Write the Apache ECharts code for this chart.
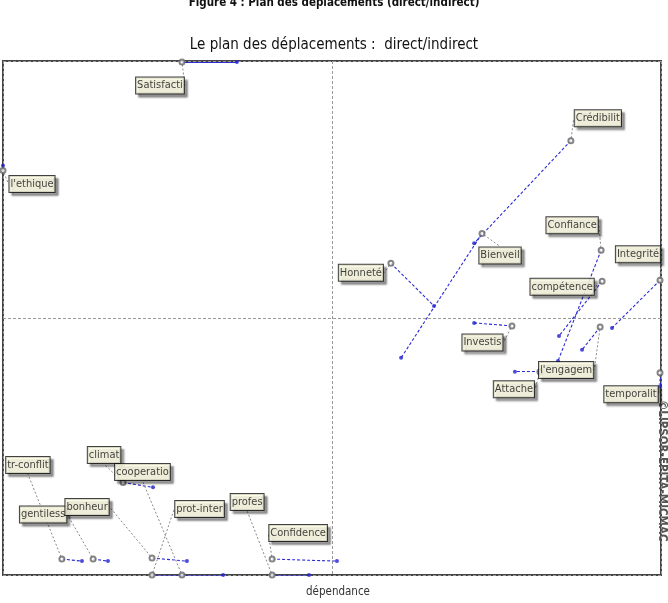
<!DOCTYPE html>
<html>
<head>
<meta charset="utf-8">
<script src="https://cdn.jsdelivr.net/npm/echarts@6/dist/echarts.min.js"></script>
<style>
  html, body { margin: 0; padding: 0; background: #fff; }
  #main { width: 668px; height: 603px; }
</style>
</head>
<body>
<div id="main"></div>
<script>
// variables (labels truncated as in the MICMAC output)
var names = ['Satisfacti', "l'ethique", 'Crédibilit', 'Bienveil', 'Honneté', 'Confiance',
  'compétence', 'Integrité', "l'engagem", 'Investis', 'Attache', 'temporalit',
  'tr-conflit', 'gentiless', 'bonheur', 'climat', 'prot-inter', 'cooperatio',
  'profes', 'Confidence'];

// direct position (open circle)
var directX = [-45.6, -100, 72.6, 45.6, 17.9, 81.8, 82.1, 99.7, 81.5, 54.7, 63.2, 99.7,
  -82.1, -72.6, -54.7, -63.5, -54.7, -45.6, -18.2, -18.2];
var directY = [99.6, 57.4, 69.0, 32.9, 21.3, 26.4, 14.3, 14.7, -3.5, -3.1, -20.9, -21.3,
  -93.8, -93.8, -93.4, -64.0, -100, -100, -100, -93.8];

// indirect position (blue dot)
var indirectX = [-28.9, -100, 43.2, 21.0, 31.0, 68.7, 69.0, 85.1, 76.0, 43.2, 55.6, 99.7,
  -76.0, -68.1, -44.1, -54.4, -45.6, -33.1, -7.0, 1.5];
var indirectY = [99.6, 59.3, 29.1, -15.5, 4.7, -16.7, -7.0, -3.9, -12.4, -1.9, -20.9, -26.7,
  -94.6, -94.6, -94.6, -65.9, -100, -100, -100, -94.6];

// label box offsets from the circle, in pixels (layout only)
var labelDx = [-22, 29, 27, 18, -30, -29, -40, -22, -34, -29.5, -26, -29,
  -34, -50, -65, -19, 47.5, -39.5, -25, 26];
var labelDy = [23.5, 13.5, -22.5, 22, 9.5, -25, 5.5, -26, 43, 16.5, 17.5, 21.5,
  -94, -44.5, -51, -27.5, -66, -103, -73, -26];

var FONT = '"DejaVu Sans Condensed", "Liberation Sans", sans-serif';

var chart = echarts.init(document.getElementById('main'));

// moves lying on the frame are drawn solid, the others dashed
var moves = names.map(function (n, i) {
  var onEdge = Math.abs(directY[i]) > 99 && directY[i] === indirectY[i];
  return {
    coords: [[directX[i], directY[i]], [indirectX[i], indirectY[i]]],
    lineStyle: { type: onEdge ? 'solid' : [3, 2] }
  };
});

var option = {
  animation: false,
  title: [{
    text: 'Figure 4 : Plan des déplacements (direct/indirect)',
    left: 'center',
    top: -8,
    textStyle: { fontFamily: FONT, fontSize: 11.5, fontWeight: 'bold', color: '#111' }
  }, {
    text: 'Le plan des déplacements :  direct/indirect',
    left: 'center',
    top: 33,
    textStyle: { fontFamily: FONT, fontSize: 15, fontWeight: 'normal', color: '#111' }
  }],
  grid: {
    left: 3, right: 7, top: 61, bottom: 26,
    show: true, borderColor: '#444', borderWidth: 2
  },
  xAxis: {
    type: 'value', min: -100, max: 100, interval: 100,
    name: 'dépendance', nameLocation: 'middle', nameGap: 11,
    nameTextStyle: { fontFamily: FONT, fontSize: 11.5, color: '#333', padding: [0, 0, 0, 12] },
    axisLine: { show: false }, axisTick: { show: false }, axisLabel: { show: false },
    splitLine: { show: true, lineStyle: { color: '#999', type: [3, 2] } }
  },
  yAxis: {
    type: 'value', min: -100, max: 100, interval: 100,
    axisLine: { show: false }, axisTick: { show: false }, axisLabel: { show: false },
    splitLine: { show: true, lineStyle: { color: '#999', type: [3, 2] } }
  },
  graphic: [{
    type: 'text',
    x: 668, y: 400,
    rotation: -Math.PI / 2,
    style: {
      text: '©LIPSOR-EPITA-MICMAC',
      font: 'bold 11.5px "DejaVu Sans Condensed"',
      fill: '#555'
    }
  }],
  series: [{
    type: 'lines',
    coordinateSystem: 'cartesian2d',
    data: moves,
    lineStyle: { color: '#2b2bd6', width: 1.1, opacity: 1 },
    silent: true,
    z: 2
  }, {
    type: 'scatter',
    name: 'indirect',
    data: names.map(function (n, i) { return [indirectX[i], indirectY[i]]; }),
    symbolSize: 4,
    itemStyle: { color: '#1f1fd0' },
    clip: false,
    z: 3
  }, {
    type: 'scatter',
    name: 'direct',
    data: names.map(function (n, i) { return { name: n, value: [directX[i], directY[i]] }; }),
    symbol: 'emptyCircle',
    symbolSize: 5,
    itemStyle: { color: '#666', borderWidth: 1.2 },
    clip: false,
    z: 4,
    label: {
      show: true,
      position: 'inside',
      formatter: '{b}',
      fontFamily: FONT,
      fontSize: 11,
      color: '#111',
      backgroundColor: '#ffffe6',
      borderColor: '#111',
      borderWidth: 1,
      padding: [3, 1, 2, 1],
      shadowColor: 'rgba(0,0,0,0.45)',
      shadowOffsetX: 3,
      shadowOffsetY: 3,
      shadowBlur: 2
    },
    labelLine: {
      show: true,
      lineStyle: { color: '#888', width: 1, type: [2, 2] }
    },
    labelLayout: function (params) {
      var i = params.dataIndex;
      return { dx: labelDx[i], dy: labelDy[i] };
    }
  }]
};

chart.setOption(option);
</script>
</body>
</html>
